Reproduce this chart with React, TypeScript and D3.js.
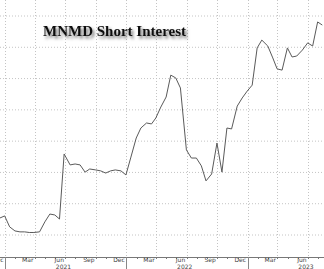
import React from "react";
import * as d3 from "d3";

const dates = [
  "2020-11-15","2020-11-30","2020-12-15","2020-12-31",
  "2021-01-15","2021-01-29","2021-02-12","2021-02-26","2021-03-15","2021-03-31","2021-04-15","2021-04-30","2021-05-14","2021-05-28","2021-06-15","2021-06-30",
  "2021-07-15","2021-07-30","2021-08-13","2021-08-31","2021-09-15","2021-09-30","2021-10-15","2021-10-29","2021-11-15","2021-11-30","2021-12-15","2021-12-31",
  "2022-01-14","2022-01-31","2022-02-15","2022-02-28","2022-03-15","2022-03-31","2022-04-14","2022-04-29","2022-05-13","2022-05-31","2022-06-15","2022-06-30",
  "2022-07-15","2022-07-29","2022-08-15","2022-08-31","2022-09-15","2022-09-30","2022-10-14","2022-10-31","2022-11-15","2022-11-30","2022-12-15","2022-12-30",
  "2023-01-13","2023-01-31","2023-02-15","2023-02-28","2023-03-15","2023-03-31","2023-04-14","2023-04-28","2023-05-15","2023-05-31","2023-06-15","2023-06-30","2023-07-14",
];
const shortInterest = [
  1.54,1.61,1.26,1.13,
  1.10,1.10,1.08,1.08,1.10,1.42,1.67,1.64,1.51,3.59,3.24,3.27,
  3.24,3.01,3.11,3.08,3.05,2.98,3.05,3.08,3.05,2.92,3.49,4.10,
  4.42,4.58,4.55,4.74,5.09,5.41,6.11,6.02,5.70,3.72,3.46,3.46,
  3.21,2.73,2.95,3.94,3.01,4.42,4.39,5.12,5.38,5.60,5.79,6.98,
  7.23,7.04,6.66,6.31,6.27,6.98,6.69,6.72,6.91,7.14,7.04,7.81,7.71,
];
const monthTickDates = ["2020-12-01","2021-03-01","2021-06-01","2021-09-01","2021-12-01","2022-03-01","2022-06-01","2022-09-01","2022-12-01","2023-03-01","2023-06-01"];
const monthTickLabels = ["Dec","Mar","Jun","Sep","Dec","Mar","Jun","Sep","Dec","Mar","Jun"];
const yearLabels = ["2021","2022","2023"];
const yearLabelDates = ["2021-06-01","2022-06-01","2023-06-01"];
const yearSeparatorDates = ["2020-12-01","2021-12-01","2022-12-01"];
const yGridValues = [1,2,3,4,5,6,7,8];
const title = "MNMD Short Interest";

const W = 324, H = 269;
const axisY = 257;

export default function App() {
  const parse = d3.timeParse("%Y-%m-%d");
  const x = d3.scaleTime()
    .domain([parse("2020-12-01")!, parse("2023-06-01")!])
    .range([5, 308]);
  const y = d3.scaleLinear().domain([1, 8]).range([235, 16]);
  const data = dates.map((d, i) => ({ d: parse(d)!, v: shortInterest[i] }));
  const line = d3.line<{ d: Date; v: number }>()
    .x((p) => x(p.d))
    .y((p) => y(p.v));
  const months = d3.timeMonth.range(parse("2020-11-01")!, parse("2023-08-01")!);

  return (
    <svg width={W} height={H} style={{ position: "absolute", left: 0, top: 0, background: "#fff" }}>
      <defs>
        <clipPath id="plot">
          <rect x={0} y={0} width={W} height={axisY} />
        </clipPath>
        <filter id="shadow" x="-10%" y="-50%" width="130%" height="200%">
          <feDropShadow dx={2} dy={2.5} stdDeviation={1.4} floodColor="#000" floodOpacity={0.55} />
        </filter>
      </defs>
      <rect x={0} y={0} width={W} height={H} fill="#fff" />
      {yGridValues.map((v) => (
        <line key={"h" + v} x1={0} x2={W} y1={y(v)} y2={y(v)} stroke="#c4c4c4" strokeWidth={1} strokeDasharray="1,2" />
      ))}
      {monthTickDates.map((d, i) => {
        const xx = Math.round(x(parse(d)!)) + 0.5;
        return <line key={"v" + i} x1={xx} x2={xx} y1={0} y2={axisY} stroke="#c4c4c4" strokeWidth={1} strokeDasharray="1,2" />;
      })}
      <text x={43} y={36} fontFamily="'Liberation Serif', serif" fontWeight="bold" fontSize={15} fill="#111" filter="url(#shadow)">
        {title}
      </text>
      <path d={line(data) || ""} fill="none" stroke="#5a5a5a" strokeWidth={1} clipPath="url(#plot)" />
      <line x1={0} x2={W} y1={axisY + 0.5} y2={axisY + 0.5} stroke="#777" strokeWidth={1} />
      {months.map((m, i) => {
        const xx = Math.round(x(m)) + 0.5;
        return <line key={"t" + i} x1={xx} x2={xx} y1={axisY} y2={axisY + 2} stroke="#777" strokeWidth={1} />;
      })}
      {yearSeparatorDates.map((d, i) => {
        const xx = Math.round(x(parse(d)!)) + 0.5;
        return <line key={"s" + i} x1={xx} x2={xx} y1={axisY} y2={H} stroke="#888" strokeWidth={1} />;
      })}
      {monthTickDates.map((d, i) => (
        <text key={"l" + i} x={x(parse(d)!) - 1.5} y={262} textAnchor="end" fontFamily="'DejaVu Sans', sans-serif" fontSize={6} fill="#444">
          {monthTickLabels[i]}
        </text>
      ))}
      {yearLabelDates.map((d, i) => (
        <text key={"y" + i} x={x(parse(d)!) - 2} y={268.5} textAnchor="middle" fontFamily="'DejaVu Sans', sans-serif" fontSize={6} fill="#444">
          {yearLabels[i]}
        </text>
      ))}
    </svg>
  );
}
